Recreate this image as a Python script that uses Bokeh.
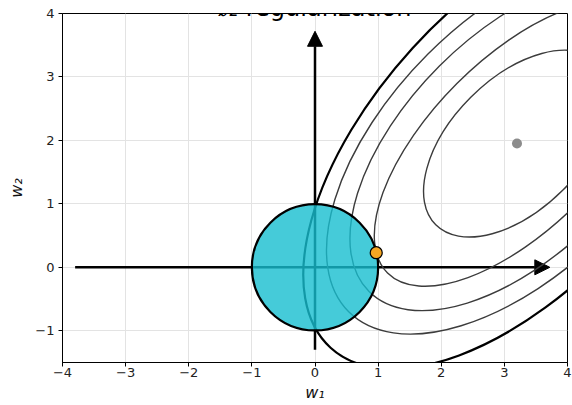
import numpy as np
from bokeh.plotting import figure
from bokeh.models import ColumnDataSource, Arrow, NormalHead, Label, FixedTicker, Range1d
from bokeh.embed import file_html
from bokeh.resources import INLINE

# ---- data ----
x_ticks = [-4, -3, -2, -1, 0, 1, 2, 3, 4]
y_ticks = [-1, 0, 1, 2, 3, 4]
opt_w1 = [3.2]          # unconstrained optimum (grey dot)
opt_w2 = [1.95]
sol_w1 = [0.97]         # l2-constrained solution (orange dot)
sol_w2 = [0.23]
ball_radius = [1.0]
# loss contours (ellipses around the optimum): full axes lengths in data units, tilt in degrees
contour_width = [3.64, 5.80, 6.63, 7.54, 8.76]
contour_height = [2.06, 2.68, 3.46, 3.98, 4.46]
contour_angle_deg = [45.0, 45.0, 45.0, 45.0, 47.6]
contour_color = ["#3c3c3c", "#3c3c3c", "#3c3c3c", "#3c3c3c", "#000000"]
contour_lw = [1.4, 1.4, 1.4, 1.4, 2.2]
# coordinate arrows
arrow_x0 = [-3.8, 0.0]
arrow_y0 = [0.0, -1.3]
arrow_x1 = [3.72, 0.0]
arrow_y1 = [0.0, 3.72]

p = figure(x_range=Range1d(-4, 4), y_range=Range1d(-1.5, 4),
           frame_width=505, frame_height=349,
           min_border_left=62, min_border_right=5, min_border_top=13, min_border_bottom=42,
           output_backend="svg", toolbar_location=None,
           background_fill_color="white", border_fill_color="white")

p.outline_line_color = "black"
p.outline_line_width = 1

for ax in (p.xaxis[0], p.yaxis[0]):
    ax.axis_line_color = "black"
    ax.major_tick_line_color = "black"
    ax.major_tick_out = 4
    ax.major_tick_in = 0
    ax.minor_tick_line_color = None
    ax.major_label_text_font = "DejaVu Sans"
    ax.major_label_text_font_size = "13px"
    ax.major_label_text_color = "#222222"
    ax.axis_label_text_font = "DejaVu Sans"
    ax.axis_label_text_font_size = "16px"
    ax.axis_label_text_font_style = "italic"
    ax.axis_label_text_color = "#111111"

p.xaxis.ticker = FixedTicker(ticks=x_ticks)
p.yaxis.ticker = FixedTicker(ticks=y_ticks)
p.xaxis.major_label_overrides = {t: str(t).replace("-", "\u2212") for t in x_ticks}
p.yaxis.major_label_overrides = {t: str(t).replace("-", "\u2212") for t in y_ticks}
p.xaxis.major_label_standoff = 1
p.yaxis.major_label_standoff = 4
p.xaxis.axis_label = "w\u2081"
p.yaxis.axis_label = "w\u2082"
p.xaxis.axis_label_standoff = 3
p.yaxis.axis_label_standoff = 6

p.xgrid.grid_line_color = "#e3e3e3"
p.ygrid.grid_line_color = "#e3e3e3"
p.xgrid.ticker = FixedTicker(ticks=x_ticks)
p.ygrid.ticker = FixedTicker(ticks=y_ticks)

# contours
n = len(contour_width)
csrc = ColumnDataSource(dict(
    x=opt_w1 * n, y=opt_w2 * n,
    w=contour_width, h=contour_height,
    a=list(np.deg2rad(contour_angle_deg)),
    col=contour_color, lw=contour_lw,
))
p.ellipse(x="x", y="y", width="w", height="h", angle="a",
          source=csrc, fill_color=None, line_color="col", line_width="lw")

# arrows
asrc = ColumnDataSource(dict(x0=arrow_x0, y0=arrow_y0, x1=arrow_x1, y1=arrow_y1))
arr = Arrow(x_start="x0", y_start="y0", x_end="x1", y_end="y1", source=asrc,
            line_color="black", line_width=2.5,
            end=NormalHead(size=15, fill_color="black", line_color="black", line_width=1),
            level="underlay")
p.add_layout(arr)

# l2 ball
p.circle(x=[0.0], y=[0.0], radius=ball_radius, radius_dimension="x",
         fill_color="#17becf", fill_alpha=0.8, line_color="black", line_width=2.2)

# points
p.scatter(x=opt_w1, y=opt_w2, size=10, marker="circle", fill_color="#8c8c8c", line_color=None)
p.scatter(x=sol_w1, y=sol_w2, size=12, marker="circle", fill_color="#F5A623",
          line_color="black", line_width=1.2)

title = Label(x=0, y=4, x_units="data", y_units="data", text="\u2113\u2082 regularization",
              text_align="center", text_baseline="alphabetic", y_offset=6,
              text_font="DejaVu Sans", text_font_size="24px", text_color="black")
p.add_layout(title)

open("out.html", "w").write(file_html(p, INLINE))
